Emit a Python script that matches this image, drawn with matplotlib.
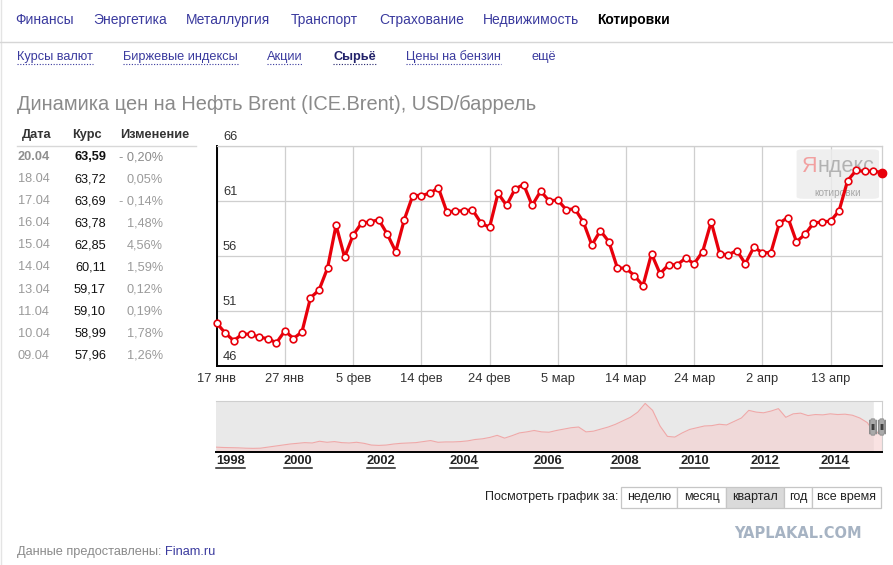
import matplotlib
matplotlib.use('Agg')
import matplotlib.pyplot as plt
from matplotlib.patches import FancyBboxPatch, Rectangle
from matplotlib.lines import Line2D
from matplotlib.transforms import IdentityTransform
from matplotlib import font_manager

W, H = 893, 565
plt.rcParams['font.family'] = ['Liberation Sans', 'DejaVu Sans']

# --- данные -------------------------------------------------------------
menu_top = ['Финансы', 'Энергетика', 'Металлургия', 'Транспорт',
            'Страхование', 'Недвижимость', 'Котировки']
menu_sub = ['Курсы валют', 'Биржевые индексы', 'Акции', 'Сырьё',
            'Цены на бензин', 'ещё']

table_dates = ['20.04', '18.04', '17.04', '16.04', '15.04',
               '14.04', '13.04', '11.04', '10.04', '09.04']
table_rates = ['63,59', '63,72', '63,69', '63,78', '62,85',
               '60,11', '59,17', '59,10', '58,99', '57,96']
table_changes = ['- 0,20%', '0,05%', '- 0,14%', '1,48%', '4,56%',
                 '1,59%', '0,12%', '0,19%', '1,78%', '1,26%']

# цены за квартал (по торговым дням)
brent = [49.9, 49.0, 48.3, 48.9, 48.9, 48.6, 48.5, 48.1, 49.2, 48.5,
         49.1, 52.2, 52.9, 54.9, 58.8, 55.9, 57.9, 59.0, 59.1, 59.3,
         58.0, 56.4, 59.3, 61.5, 61.5, 61.7, 62.2, 60.0, 60.1, 60.1,
         60.2, 59.0, 58.6, 61.7, 60.6, 62.1, 62.5, 60.6, 61.9, 61.0,
         61.1, 60.2, 60.3, 59.1, 57.0, 58.3, 57.3, 54.9, 54.9, 54.2,
         53.3, 56.2, 54.4, 55.2, 55.2, 55.8, 55.3, 56.4, 59.1, 56.2,
         56.1, 56.5, 55.3, 56.8, 56.3, 56.3, 59.0, 59.5, 57.3, 57.96,
         58.99, 59.10, 59.17, 60.11, 62.85, 63.78, 63.69, 63.72, 63.59]
x_labels = ['17 янв', '27 янв', '5 фев', '14 фев', '24 фев',
            '5 мар', '14 мар', '24 мар', '2 апр', '13 апр']
y_ticks = [46, 51, 56, 61, 66]

# история для навигатора
nav_price = [14, 13, 12.5, 12, 11, 10.5, 11, 14, 17, 20,
             23, 25, 27, 26, 31, 28, 30, 27, 26, 28,
             25, 20, 19, 20, 23, 25, 26, 27, 30, 33,
             28, 29, 29, 30, 32, 36, 38, 42, 48, 40,
             47, 55, 58, 62, 58, 57, 62, 66, 70, 72,
             58, 60, 66, 72, 80, 90, 100, 115, 140, 120,
             75, 45, 43, 55, 65, 70, 75, 76, 80, 78,
             88, 98, 120, 115, 113, 118, 125, 100, 110, 112,
             105, 108, 107, 110, 108, 109, 106, 98, 85, 55, 60]
nav_years = ['1998', '2000', '2002', '2004', '2006',
             '2008', '2010', '2012', '2014']
nav_year_start = [2.0, 11.1, 22.3, 33.5, 44.9, 55.3, 64.7, 74.2, 83.6]

periods = ['неделю', 'месяц', 'квартал', 'год', 'все время']
period_edges = [621, 677, 726, 784, 812, 881]
active_period = 'квартал'

RED = '#e8000b'
LINK = '#3a3a9e'

names = {f.name for f in font_manager.fontManager.ttflist}
narrow = 'Liberation Sans Narrow' if 'Liberation Sans Narrow' in names else 'Liberation Sans'

fig = plt.figure(figsize=(W / 100, H / 100), dpi=100)


def ftext(x, y, s, **kw):
    kw.setdefault('va', 'center')
    return fig.text(x / W, 1 - y / H, s, **kw)


def fline(x0, x1, y0, y1, **kw):
    fig.add_artist(Line2D([x0 / W, x1 / W], [1 - y0 / H, 1 - y1 / H],
                          transform=fig.transFigure, **kw))


# --- шапка ----------------------------------------------------------------
fline(1, 1, 0, H, color='#e4e4e4', lw=1)
top_x = [15, 93, 186, 291, 379, 483, 597]
for x, s in zip(top_x, menu_top):
    if s == 'Котировки':
        ftext(x, 20, s, fontsize=10, color='black', fontweight='bold')
    else:
        ftext(x, 20, s, fontsize=10, color=LINK)
fline(0, W, 42, 42, color='#d6d6d6', lw=1)

sub_x = [17, 123, 267, 333, 406, 531]
sub_texts = []
for x, s in zip(sub_x, menu_sub):
    if s == 'Сырьё':
        t = ftext(x, 57, s, fontsize=9.2, color='#22226a', fontweight='bold')
    else:
        t = ftext(x, 57, s, fontsize=9.2, color=LINK)
    if s != 'ещё':
        sub_texts.append(t)

ftext(17, 104, 'Динамика цен на Нефть Brent (ICE.Brent), USD/баррель',
      fontsize=14.4, color='#8a8a8a')

# --- таблица ----------------------------------------------------------------
ftext(22, 135, 'Дата', fontsize=9.2, color='#333333', fontweight='bold')
ftext(72, 135, 'Курс', fontsize=9.2, color='#333333', fontweight='bold')
ftext(120, 135, 'Изменение', fontsize=9.2, color='#333333', fontweight='bold')
fline(17, 196, 146, 146, color='#d8d8d8', lw=1)
for i, (d, r, c) in enumerate(zip(table_dates, table_rates, table_changes)):
    y = 157 + 22.1 * i
    fw = 'bold' if i == 0 else 'normal'
    ftext(18, y, d, fontsize=9.2, color='#8e8e8e' if i == 0 else '#9a9a9a',
          fontweight=fw)
    ftext(106, y, r, fontsize=9.2, color='#111111', fontweight=fw, ha='right')
    ftext(163, y, c, fontsize=9.2, color='#8a8a8a' if i == 0 else '#9a9a9a',
          ha='right')

# --- основной график ----------------------------------------------------------
ax = fig.add_axes([216.7 / W, 1 - 366 / H, 665 / W, 220 / H])
idx = list(range(len(brent)))
ax.plot(idx, brent, color=RED, lw=2.3, marker='o', ms=4.8, mfc='white',
        mec=RED, mew=1.2, zorder=4, clip_on=False)
ax.plot(idx[-1], brent[-1], 'o', color=RED, ms=6, zorder=5, clip_on=False)
ax.set_xlim(0, len(brent) - 1)
ax.set_ylim(y_ticks[0], y_ticks[-1])
ax.set_xticks(idx[::8])
ax.set_xticklabels(x_labels, fontsize=9.3, color='#333333')
ax.set_yticks(y_ticks)
ax.set_yticklabels([])
ax.tick_params(length=0, pad=5)
ax.grid(True, color='#cfcfcf', lw=0.9)
ax.set_axisbelow(True)
for side in ['left', 'bottom']:
    ax.spines[side].set_color('black')
    ax.spines[side].set_linewidth(1.4)
for side in ['top', 'right']:
    ax.spines[side].set_color('#cfcfcf')
    ax.spines[side].set_linewidth(0.9)
for v in y_ticks:
    ax.annotate(str(v), xy=(0, v), xycoords=ax.get_yaxis_transform(),
                xytext=(4.5, 2.5), textcoords='offset points',
                fontsize=9.3, color='#333333', va='bottom', ha='left')

# водяной знак Яндекса
ax.add_patch(FancyBboxPatch((0.872, 0.76), 0.124, 0.225,
                            boxstyle='round,pad=0,rounding_size=0.01',
                            transform=ax.transAxes, fc='#ececec', ec='none',
                            alpha=0.8, zorder=2))
ya = ax.text(0.880, 0.905, 'Я', transform=ax.transAxes, fontsize=15.5,
             color='#f2a0a0', va='center', ha='left', zorder=3, family=narrow)
ax.text(0.934, 0.785, 'котировки', transform=ax.transAxes, fontsize=7.3,
        color='#a8a8a8', va='center', ha='center', zorder=3)

# --- навигатор ----------------------------------------------------------------
ax2 = fig.add_axes([216 / W, 1 - 452 / H, 666 / W, 51 / H])
nav_idx = list(range(len(nav_price)))
ax2.set_facecolor('#e9e9e9')
sel_start = len(nav_price) - 2.1
ax2.axvspan(sel_start, len(nav_price) - 1, color='white', zorder=0.5)
ax2.fill_between(nav_idx, nav_price, 0, color='#f5cfcf', alpha=0.6,
                 lw=0, zorder=1)
ax2.plot(nav_idx, nav_price, color='#f0a8a8', lw=0.8, zorder=2)
ax2.set_xlim(0, len(nav_price) - 1)
ax2.set_ylim(0, 147)
ax2.set_xticks([])
ax2.set_yticks([])
ax2.spines['bottom'].set_color('black')
ax2.spines['bottom'].set_linewidth(1.4)
for side in ['top', 'right']:
    ax2.spines[side].set_color('#cfcfcf')
ax2.spines['left'].set_visible(False)
year_texts = []
for pos, s in zip(nav_year_start, nav_years):
    t = ax2.text(pos, -0.18, s, transform=ax2.get_xaxis_transform(),
                 fontsize=9.3, fontweight='bold', color='#222222',
                 ha='center', va='center')
    year_texts.append(t)
for x0 in [sel_start - 0.15, len(nav_price) - 1 - 0.05]:
    ax2.add_patch(FancyBboxPatch((x0 - 0.45, 0.33), 0.95, 0.32,
                                 boxstyle='round,pad=0,rounding_size=0.3',
                                 transform=ax2.get_xaxis_transform(),
                                 fc='#a9a9a9', ec='#8c8c8c', lw=0.6,
                                 clip_on=False, zorder=5))
    ax2.text(x0, 0.49, 'II', transform=ax2.get_xaxis_transform(),
             fontsize=6.5, fontweight='bold', color='#333333',
             ha='center', va='center', zorder=6, clip_on=False)

# --- кнопки периода -------------------------------------------------------------
ftext(618, 497, 'Посмотреть график за:', fontsize=9, color='#222222',
      ha='right')
for i, s in enumerate(periods):
    x0, x1 = period_edges[i], period_edges[i + 1]
    fc = '#dadada' if s == active_period else 'white'
    fig.add_artist(Rectangle((x0 / W, 1 - 508 / H), (x1 - x0) / W, 21 / H,
                             transform=fig.transFigure, fc=fc,
                             ec='#c6c6c6', lw=0.9))
    ftext((x0 + x1) / 2, 497, s, fontsize=9, color='#222222', ha='center')

ftext(798, 534, 'YAPLAKAL.COM', fontsize=10.5, fontweight='heavy',
      color='#a6b3c3', ha='center', family='DejaVu Sans')

src = ftext(17, 552, 'Данные предоставлены: ', fontsize=9.2, color='#8a8a8a')

# подчёркивания и составные надписи (нужны размеры текста)
fig.canvas.draw()
rend = fig.canvas.get_renderer()
for t in sub_texts:
    bb = t.get_window_extent(rend)
    fig.add_artist(Line2D([bb.x0, bb.x1], [bb.y0 - 1, bb.y0 - 1],
                          transform=IdentityTransform(), color=t.get_color(),
                          lw=0.8, ls=(0, (1, 1.5))))
for t in year_texts:
    bb = t.get_window_extent(rend)
    fig.add_artist(Line2D([bb.x0, bb.x1], [bb.y0 - 0.5, bb.y0 - 0.5],
                          transform=IdentityTransform(), color='#222222',
                          lw=1.1))
bb = ya.get_window_extent(rend)
ax_bb = ax.get_window_extent(rend)
ax.text((bb.x1 - ax_bb.x0) / ax_bb.width, 0.905, 'ндекс',
        transform=ax.transAxes, fontsize=15.5, color='#b2b2b2',
        va='center', ha='left', zorder=3, family=narrow)
bb = src.get_window_extent(rend)
fig.text(bb.x1 / W, 1 - 552 / H, 'Finam.ru', fontsize=9.2, color=LINK,
         va='center')

fig.savefig('out.png', dpi=100)
